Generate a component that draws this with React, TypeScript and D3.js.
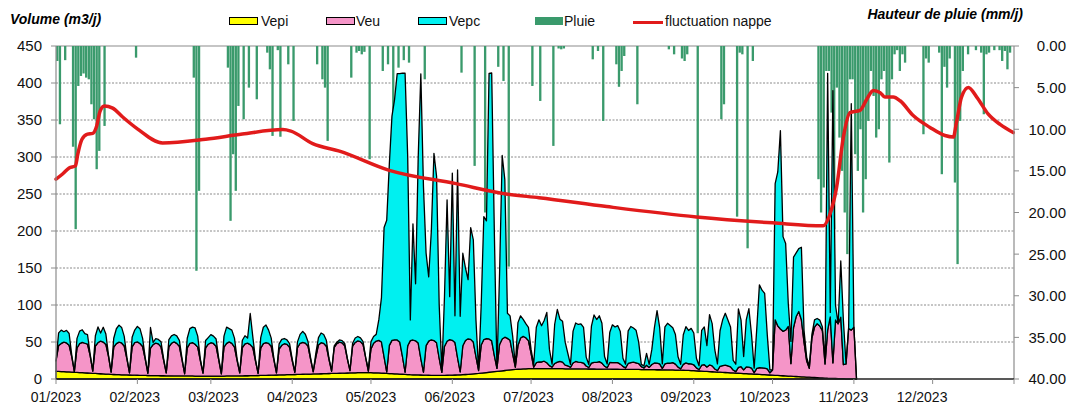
import React from 'react';
import * as d3 from 'd3';

// ---------- axes / categories ----------
const monthTickDays = [0, 31, 59, 90, 120, 151, 181, 212, 243, 273, 304, 334, 365];
const monthLabels = ['01/2023', '02/2023', '03/2023', '04/2023', '05/2023', '06/2023', '07/2023', '08/2023', '09/2023', '10/2023', '11/2023', '12/2023'];
const monthLabelDays = [0, 30, 60, 90, 120, 150, 180, 210, 240, 270, 300, 330];
const leftTicks = [0, 50, 100, 150, 200, 250, 300, 350, 400, 450];
const rightTicks = [0, 5, 10, 15, 20, 25, 30, 35, 40];

// ---------- daily volumes, one row per week (Sun..Sat), from 01/01/2023 ----------
const vepiWeeks: number[][] = [
  [10.5, 10.3, 10.1, 9.9, 9.7, 9.5, 9.3],
  [9.1, 8.9, 8.7, 8.5, 8.3, 8.1, 7.9],
  [7.7, 7.5, 7.3, 7.1, 6.9, 6.7, 6.5],
  [6.3, 6.1, 5.9, 5.8, 5.7, 5.6, 5.5],
  [5.4, 5.3, 5.2, 5.1, 5.0, 4.9, 4.8],
  [4.7, 4.6, 4.6, 4.5, 4.5, 4.4, 4.4],
  [4.3, 4.3, 4.3, 4.2, 4.2, 4.2, 4.2],
  [4.1, 4.1, 4.1, 4.1, 4.0, 4.0, 4.0],
  [4.0, 4.0, 4.0, 4.0, 4.0, 4.0, 4.0],
  [4.0, 4.0, 4.1, 4.1, 4.1, 4.2, 4.2],
  [4.3, 4.3, 4.4, 4.4, 4.5, 4.5, 4.6],
  [4.7, 4.8, 4.9, 5.0, 5.1, 5.2, 5.3],
  [5.4, 5.5, 5.6, 5.7, 5.8, 5.9, 6.0],
  [6.1, 6.2, 6.3, 6.4, 6.5, 6.6, 6.7],
  [6.8, 6.9, 7.0, 7.1, 7.2, 7.3, 7.4],
  [7.5, 7.6, 7.7, 7.8, 7.9, 8.0, 8.1],
  [8.2, 8.3, 8.4, 8.5, 8.5, 8.6, 8.6],
  [8.6, 8.5, 8.4, 8.3, 8.2, 8.0, 7.8],
  [7.6, 7.4, 7.2, 7.0, 6.8, 6.6, 6.4],
  [6.2, 6.0, 5.8, 5.7, 5.6, 5.5, 5.4],
  [5.3, 5.2, 5.1, 5.0, 5.0, 5.0, 5.0],
  [5.0, 5.0, 5.1, 5.2, 5.3, 5.4, 5.5],
  [5.7, 5.9, 6.1, 6.3, 6.6, 6.9, 7.2],
  [7.5, 7.9, 8.3, 8.7, 9.1, 9.5, 9.9],
  [10.3, 10.7, 11.1, 11.5, 11.9, 12.3, 12.6],
  [12.9, 13.2, 13.4, 13.6, 13.8, 13.9, 14.0],
  [14.0, 14.0, 14.0, 14.0, 14.0, 14.0, 14.0],
  [14.0, 14.0, 13.9, 13.9, 13.9, 13.8, 13.8],
  [13.8, 13.7, 13.7, 13.7, 13.6, 13.6, 13.6],
  [13.5, 13.5, 13.5, 13.4, 13.4, 13.4, 13.3],
  [13.3, 13.3, 13.2, 13.2, 13.2, 13.1, 13.1],
  [13.1, 13.0, 13.0, 12.9, 12.9, 12.9, 12.8],
  [12.8, 12.7, 12.7, 12.6, 12.6, 12.5, 12.5],
  [12.4, 12.4, 12.3, 12.3, 12.2, 12.1, 12.0],
  [11.9, 11.8, 11.7, 11.6, 11.4, 11.2, 11.0],
  [10.8, 10.6, 10.4, 10.2, 10.0, 9.8, 9.6],
  [9.4, 9.2, 9.0, 8.8, 8.6, 8.4, 8.2],
  [8.0, 7.8, 7.6, 7.4, 7.2, 7.0, 6.8],
  [6.6, 6.4, 6.2, 6.0, 5.8, 5.6, 5.4],
  [5.2, 5.0, 4.8, 4.6, 4.4, 4.2, 4.0],
  [3.8, 3.6, 3.4, 3.2, 3.0, 2.8, 2.6],
  [2.4, 2.2, 2.0, 1.8, 1.6, 1.4, 1.2],
  [1.0, 0.9, 0.8, 0.7, 0.6, 0.5, 0.4],
  [0.3, 0.2, 0.1, 0.1, 0],
];

const veuWeeks: number[][] = [
  [14, 35, 38, 40, 39, 36, 21],
  [1, 33, 39, 41, 40, 39, 24],
  [3, 37, 42, 44, 43, 40, 24],
  [3, 37, 42, 44, 43, 39, 22],
  [3, 38, 44, 45, 43, 39, 22],
  [3, 37, 42, 44, 43, 39, 21],
  [4, 39, 44, 46, 44, 40, 22],
  [3, 38, 44, 45, 43, 39, 21],
  [4, 38, 43, 45, 44, 40, 22],
  [3, 39, 44, 46, 44, 39, 21],
  [4, 38, 43, 44, 42, 38, 20],
  [3, 37, 43, 44, 43, 39, 21],
  [3, 35, 40, 42, 41, 37, 19],
  [3, 36, 42, 43, 42, 38, 20],
  [3, 23, 39, 42, 41, 37, 19],
  [3, 35, 40, 42, 41, 37, 19],
  [3, 36, 41, 43, 42, 38, 20],
  [2, 32, 40, 43, 44, 42, 22],
  [2, 38, 45, 46, 46, 43, 24],
  [3, 39, 46, 47, 46, 43, 22],
  [4, 40, 46, 48, 47, 44, 23],
  [4, 39, 46, 48, 47, 44, 23],
  [4, 39, 46, 48, 47, 43, 23],
  [4, 38, 45, 46, 45, 42, 22],
  [4, 36, 43, 45, 43, 40, 21],
  [3, 32, 42, 44, 42, 38, 21],
  [2, 8, 9, 9, 10, 8, 4],
  [2, 7, 9, 10, 9, 5, 4],
  [2, 8, 10, 9, 9, 8, 4],
  [2, 8, 9, 9, 10, 8, 4],
  [2, 9, 9, 9, 9, 7, 4],
  [2, 8, 9, 10, 9, 8, 4],
  [2, 6, 3, 7, 9, 9, 8],
  [2, 8, 9, 9, 10, 8, 4],
  [2, 8, 10, 9, 9, 8, 4],
  [2, 8, 9, 6, 9, 8, 4],
  [2, 8, 9, 10, 9, 8, 4],
  [2, 8, 9, 5, 9, 9, 8],
  [2, 8, 9, 9, 9, 8, 3],
  [7, 75, 67, 63, 60, 62, 67],
  [17, 66, 81, 88, 77, 47, 22],
  [12, 53, 68, 73, 70, 64, 19],
  [65, 83, 21, 79, 74, 83, 19],
  [20, 68, 66, 70, 0],
];

const vepcWeeks: number[][] = [
  [0, 17, 18, 14, 17, 16, 2],
  [0, 13, 17, 17, 13, 13, 2],
  [0, 14, 21, 11, 20, 14, 2],
  [0, 12, 20, 23, 21, 13, 2],
  [0, 13, 17, 21, 20, 11, 2],
  [0, 28, 3, 6, 6, 7, 2],
  [0, 10, 10, 10, 10, 8, 2],
  [0, 13, 20, 21, 22, 15, 2],
  [0, 10, 9, 11, 10, 10, 2],
  [0, 15, 22, 18, 18, 12, 2],
  [0, 10, 11, 7, 42, 14, 2],
  [0, 14, 22, 24, 18, 11, 2],
  [0, 7, 8, 7, 6, 5, 2],
  [0, 8, 12, 15, 12, 6, 2],
  [0, 5, 10, 13, 12, 8, 2],
  [0, 2, 2, 3, 3, 3, 1],
  [0, 4, 6, 6, 5, 4, 0],
  [3, 10, 9, 9, 28, 60, 175],
  [205, 245, 303, 325, 360, 363, 383],
  [404, 255, 28, 157, 77, 251, 385],
  [251, 125, 87, 147, 253, 225, 72],
  [3, 66, 191, 58, 226, 36, 254],
  [75, 125, 98, 80, 151, 138, 50],
  [0, 54, 166, 159, 359, 362, 168],
  [0, 96, 248, 213, 34, 33, 24],
  [3, 31, 30, 23, 19, 18, 5],
  [4, 48, 57, 49, 55, 68, 22],
  [4, 53, 71, 57, 55, 31, 17],
  [4, 43, 52, 51, 52, 48, 12],
  [4, 50, 64, 58, 62, 54, 13],
  [5, 41, 51, 48, 50, 44, 11],
  [5, 44, 49, 46, 44, 29, 3],
  [3, 16, 4, 20, 48, 71, 49],
  [6, 50, 54, 51, 47, 40, 14],
  [6, 40, 49, 45, 48, 43, 13],
  [5, 47, 51, 29, 68, 57, 26],
  [9, 48, 62, 70, 62, 54, 13],
  [10, 79, 63, 18, 64, 79, 45],
  [6, 54, 112, 105, 101, 46, 4],
  [0, 184, 208, 268, 128, 117, 31],
  [30, 95, 86, 85, 98, 16, 5],
  [3, 5, 10, 7, 8, 5, 1],
  [347, 6, 368, 20, 0, 76, 60],
  [0, 2, 306, 0, 0],
];

// ---------- daily rainfall (day index, mm) ----------
const pluie: [number, number][] = [
  [0, 1.8], [1, 9.4], [3, 1.7], [6, 12.1], [7, 22.0], [8, 4.8], [9, 3.6], [10, 3.3], [11, 3.8], [12, 4.0],
  [13, 7.0], [14, 8.8], [15, 14.8], [16, 12.6], [18, 9.6], [30, 1.4], [52, 3.8], [53, 27.0], [54, 17.4],
  [65, 2.6], [66, 21.0], [67, 13.0], [68, 17.4], [69, 7.2], [71, 8.8], [73, 5.0], [76, 6.4], [80, 0.8],
  [81, 2.8], [82, 10.8], [84, 0.5], [85, 10.9], [88, 2.2], [90, 9.0], [99, 2.2], [101, 4.0], [102, 5.0],
  [103, 11.4], [112, 3.8], [114, 0.8], [115, 0.6], [116, 1.0], [117, 0.7], [119, 13.6], [124, 3.0],
  [126, 2.2], [128, 8.4], [130, 2.6], [132, 1.7], [134, 2.0], [140, 4.0], [154, 3.2], [159, 14.4],
  [163, 20.0], [168, 2.5], [170, 4.2], [172, 26.5], [181, 4.8], [184, 6.6], [189, 12.0], [191, 0.3],
  [192, 0.4], [193, 0.3], [204, 1.6], [206, 0.6], [208, 9.0], [213, 2.2], [214, 4.9], [215, 3.0],
  [216, 1.2], [221, 7.0], [233, 0.4], [235, 1.0], [238, 1.5], [239, 1.8], [240, 1.0], [244, 34.5],
  [253, 8.8], [254, 7.0], [259, 20.5], [260, 0.8], [261, 1.0], [263, 24.3], [265, 1.8],
  [290, 16], [291, 20], [292, 17], [293, 3], [294, 3], [295, 8], [296, 22], [297, 5], [298, 11],
  [299, 15], [300, 20], [301, 25], [302, 4], [303, 4], [304, 13], [305, 15], [306, 10], [307, 20],
  [308, 16], [309, 9], [310, 3], [311, 6], [312, 11], [313, 10], [314, 4], [315, 3], [316, 6],
  [317, 14], [318, 4], [319, 1], [320, 0.5], [321, 3], [322, 1], [323, 2],
  [330, 10.6], [331, 1.5], [332, 2], [336, 0.8], [337, 15.4], [338, 2.5], [339, 5], [340, 1.5],
  [342, 16.4], [343, 26.2], [344, 9], [345, 3], [347, 1], [350, 0.5], [352, 0.8], [353, 8.2],
  [354, 1], [355, 0.8], [357, 0.5], [359, 0.5], [360, 1.8], [361, 0.6], [362, 2.8], [363, 0.8],
];

// ---------- groundwater fluctuation (day, value on left scale) ----------
const nappe: [number, number][] = [
  [0, 270], [2.5, 277], [5, 285], [7.4, 288], [8.3, 304], [9.9, 324], [12, 331], [14, 332], [15.5, 342],
  [16.8, 362], [18.4, 369], [21.6, 366], [25.4, 354], [31, 338], [40.6, 319], [57, 324], [71, 331],
  [86.4, 337], [89.5, 335], [97.8, 318], [108, 308], [127, 282], [152.4, 264], [171.5, 250], [184, 245],
  [209.8, 233], [244, 219], [273, 211], [292.3, 207], [294.9, 223], [297.4, 259], [300, 327],
  [302.5, 360], [306.3, 363], [308.9, 378], [311.4, 390], [314, 387], [315.8, 381], [319, 381],
  [321.6, 376], [326.6, 356], [333, 340], [338.7, 329], [341.9, 327], [343, 345], [345, 381],
  [347.6, 394], [350.8, 381], [355.2, 358], [359.7, 344], [364.7, 333],
];

const FONT = "'Liberation Sans', Arial, Helvetica, sans-serif";
const C_VEPI = '#ffff00';
const C_VEU = '#f595c8';
const C_VEPC = '#00f0f0';
const C_PLUIE = '#3a9a6c';
const C_NAPPE = '#e11b1b';

export default function App() {
  const left = 56, right = 1014, top = 46, bottom = 379;
  const x = d3.scaleLinear().domain([0, 365]).range([left, right]);
  const y = d3.scaleLinear().domain([0, 450]).range([bottom, top]);
  const y2 = d3.scaleLinear().domain([0, 40]).range([top, bottom]);

  const vepi = vepiWeeks.flat();
  const veu = veuWeeks.flat();
  const vepc = vepcWeeks.flat();
  const rows = vepi.map((v, i) => ({ day: i, vepi: v, veu: veu[i] ?? 0, vepc: vepc[i] ?? 0 }));
  const series = d3.stack<any>().keys(['vepi', 'veu', 'vepc'])(rows as any);
  const area = d3
    .area<any>()
    .x((d) => x(d.data.day))
    .y0((d) => y(d[0]))
    .y1((d) => y(d[1]));
  const colors = [C_VEPI, C_VEU, C_VEPC];

  const line = d3
    .line<[number, number]>()
    .x((d) => x(d[0]))
    .y((d) => y(d[1]))
    .curve(d3.curveMonotoneX);

  const barW = x(1) - x(0) - 0.3;

  return (
    <svg
      width={1070}
      height={405}
      style={{ position: 'absolute', left: 0, top: 0, background: '#fff' }}
      fontFamily={FONT}
    >
      <rect x={0} y={0} width={1070} height={405} fill="#fff" />
      {/* gridlines */}
      {leftTicks
        .filter((t) => t > 0 && t < 450)
        .map((t) => (
          <line key={'g' + t} x1={left} x2={right} y1={y(t)} y2={y(t)} stroke="#8a8a8a" strokeWidth={1} strokeDasharray="2,1.5" />
        ))}
      <line x1={left} x2={right} y1={top} y2={top} stroke="#8c8c8c" strokeWidth={1.2} />

      {/* rain bars */}
      {pluie.map(([d, v]) => (
        <rect key={'p' + d} x={x(d + 0.5) - barW / 2} y={y2(0)} width={barW} height={y2(v) - y2(0)} fill={C_PLUIE} />
      ))}

      {/* stacked areas */}
      {series.map((s, i) => (
        <path key={'a' + i} d={area(s as any) || ''} fill={colors[i]} stroke="#000" strokeWidth={1.3} strokeLinejoin="round" />
      ))}

      {/* groundwater line */}
      <path d={line(nappe) || ''} fill="none" stroke={C_NAPPE} strokeWidth={3.5} strokeLinejoin="round" strokeLinecap="round" />

      {/* axes */}
      <line x1={left} x2={left} y1={top} y2={bottom} stroke="#8c8c8c" strokeWidth={1.2} />
      <line x1={right} x2={right} y1={top} y2={bottom} stroke="#8c8c8c" strokeWidth={1.2} />
      <line x1={left} x2={right} y1={bottom} y2={bottom} stroke="#222" strokeWidth={1.3} />
      {leftTicks.map((t) => (
        <g key={'l' + t}>
          <line x1={left - 5} x2={left} y1={y(t)} y2={y(t)} stroke="#8c8c8c" />
          <text x={42} y={y(t)} dy="0.36em" textAnchor="end" fontSize={15} fill="#111">
            {t}
          </text>
        </g>
      ))}
      {rightTicks.map((t) => (
        <g key={'r' + t}>
          <line x1={right} x2={right + 5} y1={y2(t)} y2={y2(t)} stroke="#8c8c8c" />
          <text x={1066} y={y2(t)} dy="0.36em" textAnchor="end" fontSize={15} fill="#111">
            {d3.format('.2f')(t)}
          </text>
        </g>
      ))}
      {monthTickDays.map((d) => (
        <line key={'t' + d} x1={x(d)} x2={x(d)} y1={bottom} y2={bottom + 5} stroke="#8c8c8c" />
      ))}
      {monthLabels.map((lab, i) => (
        <text key={lab} x={x(monthLabelDays[i])} y={402} textAnchor="middle" fontSize={14} fill="#111">
          {lab}
        </text>
      ))}

      {/* titles */}
      <text x={10} y={24} fontSize={14} fontWeight="bold" fontStyle="italic" fill="#000">
        Volume (m3/j)
      </text>
      <text x={1023} y={19} textAnchor="end" fontSize={14} fontWeight="bold" fontStyle="italic" fill="#000">
        Hauteur de pluie (mm/j)
      </text>

      {/* legend */}
      <g fontSize={14} fill="#111">
        <rect x={229.5} y={17.5} width={28} height={7} fill={C_VEPI} stroke="#000" strokeWidth={1} />
        <text x={261} y={26}>Vepi</text>
        <rect x={326.5} y={17.5} width={28} height={7} fill={C_VEU} stroke="#000" strokeWidth={1} />
        <text x={356} y={26}>Veu</text>
        <rect x={418.5} y={17.5} width={28} height={7} fill={C_VEPC} stroke="#000" strokeWidth={1} />
        <text x={449} y={26}>Vepc</text>
        <rect x={535} y={17} width={28} height={8} fill={C_PLUIE} />
        <text x={564} y={26}>Pluie</text>
        <line x1={633} x2={663} y1={22.5} y2={22.5} stroke={C_NAPPE} strokeWidth={3} />
        <text x={665} y={26}>fluctuation nappe</text>
      </g>
    </svg>
  );
}
